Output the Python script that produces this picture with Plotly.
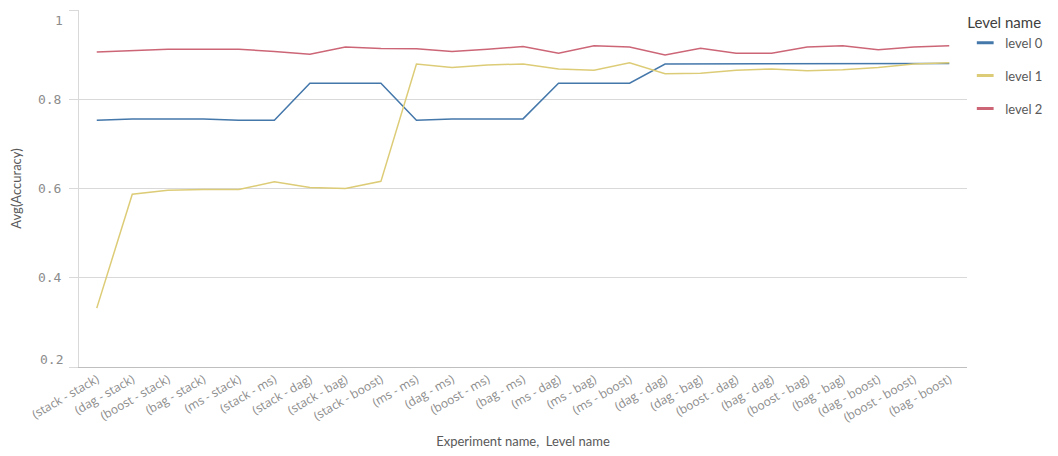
import plotly.graph_objects as go

# data
CATEGORIES = [
    '(stack - stack)', '(dag - stack)', '(boost - stack)', '(bag - stack)', '(ms - stack)',
    '(stack - ms)', '(stack - dag)', '(stack - bag)', '(stack - boost)', '(ms - ms)',
    '(dag - ms)', '(boost - ms)', '(bag - ms)', '(ms - dag)', '(ms - bag)',
    '(ms - boost)', '(dag - dag)', '(dag - bag)', '(boost - dag)', '(bag - dag)',
    '(boost - bag)', '(bag - bag)', '(dag - boost)', '(boost - boost)', '(bag - boost)',
]
LEVEL_0 = [0.753, 0.756, 0.756, 0.756, 0.753, 0.753, 0.836, 0.836, 0.836, 0.753,
           0.756, 0.756, 0.756, 0.836, 0.836, 0.836, 0.879, 0.879, 0.879, 0.879,
           0.879, 0.879, 0.879, 0.879, 0.880]
LEVEL_1 = [0.332, 0.587, 0.596, 0.598, 0.598, 0.615, 0.602, 0.600, 0.616, 0.879,
           0.871, 0.877, 0.879, 0.868, 0.865, 0.882, 0.857, 0.858, 0.865, 0.868,
           0.864, 0.866, 0.871, 0.879, 0.882]
LEVEL_2 = [0.906, 0.909, 0.912, 0.912, 0.912, 0.907, 0.901, 0.917, 0.914, 0.913,
           0.907, 0.912, 0.918, 0.903, 0.920, 0.917, 0.899, 0.914, 0.903, 0.903,
           0.917, 0.920, 0.911, 0.917, 0.920]
SERIES_NAMES = ['level 0', 'level 1', 'level 2']
Y_TICKS = [0.2, 0.4, 0.6, 0.8, 1.0]
Y_TICK_TEXT = ['0.2', '0.4', '0.6', '0.8', '1']

COLORS = ['#4477aa', '#ddcc77', '#cc6677']
TICK_FONT = dict(family='DejaVu Sans Mono', size=13, color='#8c8c8c')

fig = go.Figure()

# lines
for name, vals, c in zip(SERIES_NAMES, [LEVEL_0, LEVEL_1, LEVEL_2], COLORS):
    fig.add_trace(go.Scatter(x=CATEGORIES, y=vals, mode='lines', name=name,
                             line=dict(color=c, width=1.5), showlegend=False))

# short dash legend entries
for i, (name, c) in enumerate(zip(SERIES_NAMES, COLORS)):
    fig.add_trace(go.Scatter(x=[None], y=[None], mode='markers', name=name,
                             legendgroup='g%d' % i,
                             marker=dict(symbol='line-ew', size=12, color=c,
                                         line=dict(width=3, color=c))))

# end labels of the y axis sit inside the plot range (like the original)
mid_text = [t if 0 < k < len(Y_TICKS) - 1 else '' for k, t in enumerate(Y_TICK_TEXT)]
fig.add_annotation(x=0, xref='paper', y=Y_TICKS[-1], yref='y', text=Y_TICK_TEXT[-1],
                   showarrow=False, xanchor='right', xshift=-14, yshift=-10, font=TICK_FONT)
fig.add_annotation(x=0, xref='paper', y=Y_TICKS[0], yref='y', text=Y_TICK_TEXT[0],
                   showarrow=False, xanchor='right', xshift=-14, yshift=8, font=TICK_FONT)

# page has an 8px body margin, so figure is 1050x448 placed at (8, 8)
fig.update_layout(
    width=1050, height=448,
    margin=dict(l=71, r=91, t=0, b=89),
    paper_bgcolor='white', plot_bgcolor='white',
    font=dict(family='Lato, Open Sans, sans-serif', color='#595959'),
    xaxis=dict(
        type='category', range=[-0.5, 24.5], automargin=False,
        tickangle=-30, tickfont=dict(family='Open Sans', size=12, color='#8c8c8c'),
        showgrid=False, showline=True, linecolor='#bfbfbf', linewidth=1,
        ticks='', zeroline=False,
        title=dict(text='Experiment name,  Level name', font=dict(size=13, color='#595959'),
                   standoff=12),
    ),
    yaxis=dict(
        range=[0.2, 1.0], tickvals=Y_TICKS, ticktext=mid_text, automargin=False,
        tickfont=TICK_FONT, ticklabelstandoff=5,
        showgrid=True, gridcolor='#d9d9d9', gridwidth=1,
        ticks='outside', ticklen=9, tickcolor='#d9d9d9',
        showline=True, linecolor='#d9d9d9', zeroline=False,
        title=dict(text='Avg(Accuracy)', font=dict(size=13, color='#595959'), standoff=14),
    ),
    legend=dict(
        x=0.998, xanchor='left', y=1.005, yanchor='top',
        title=dict(text='Level name', font=dict(size=15, color='#404040')),
        font=dict(size=13, color='#595959'),
        tracegroupgap=13, itemwidth=30,
        bgcolor='rgba(0,0,0,0)',
    ),
)

fig.write_html("out.html")
